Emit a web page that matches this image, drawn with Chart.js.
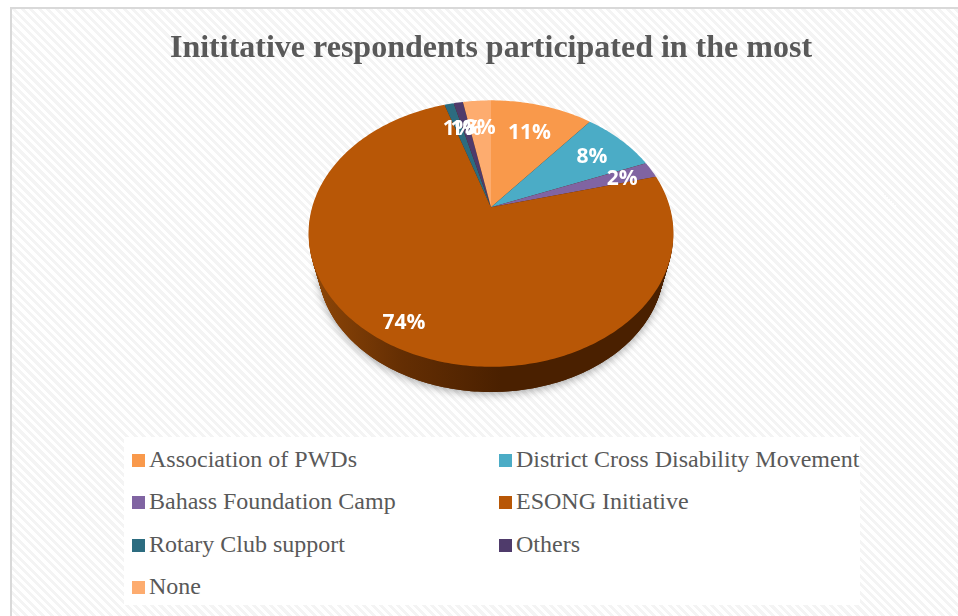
<!DOCTYPE html>
<html>
<head>
<meta charset="utf-8">
<title>Initiative participation</title>
<script src="https://cdn.jsdelivr.net/npm/chart.js@4"></script>
<style>
  html, body { margin: 0; background: #fff; }
  #frame {
    position: absolute; left: 10px; top: 7px; width: 948px; height: 609px;
    box-sizing: border-box; border: solid #d9d9d9; border-width: 2px 0 0 2px;
    background: repeating-linear-gradient(45deg, #fff 0 3px, #f4f4f4 3px 6px);
  }
  #chart { position: absolute; left: 0; top: 0; }
  #legend {
    position: absolute; left: 124px; top: 437px; width: 736px; height: 168px;
    background: #fff; font: 24px "Liberation Serif", serif; color: #595959;
  }
  #legend div { position: absolute; white-space: nowrap; line-height: 26px; }
  #legend i { position: absolute; left: -17px; top: 8px; width: 13px; height: 13px; }
</style>
</head>
<body>
<div id="frame"></div>
<canvas id="chart" width="958" height="616"></canvas>
<div id="legend"></div>
<script>
var initiatives = [
  "Association of PWDs",
  "District Cross Disability Movement",
  "Bahass Foundation Camp",
  "ESONG Initiative",
  "Rotary Club support",
  "Others",
  "None",
];
var shares = [11, 8, 2, 74, 1, 1, 3];
var sliceColors = ["#f9994b", "#4bacc6", "#8064a2", "#b85706", "#2c6c80", "#4f3b6b", "#fdac6f"];

// how far out along its slice each percentage sits (fraction of the radius)
var labelRadii = [0.72, 0.76, 0.81, 0.86, 0.75, 0.73, 0.73];

// Tilted pie: the arcs keep their computed angles, they are only projected
// onto the floor plane before being filled.
var tiltedPie = {
  id: "tiltedPie",

  project: function (arc, angle, r, opts) {
    var u = Math.cos(angle) * r;
    var v = -Math.sin(angle) * r;
    var w = 1 + opts.perspective * v;
    return {
      x: arc.x + (arc.outerRadius * opts.stretch * u) / w,
      y: arc.y - (arc.outerRadius * v) / w,
    };
  },

  // t goes from 0 (top face) to 1 (bottom rim, further away so a bit smaller)
  tracePath: function (ctx, arc, opts, t) {
    var steps = Math.max(4, Math.ceil((arc.endAngle - arc.startAngle) * 60));
    var dy = opts.depth * t;
    var scale = 1 - opts.taper * t;
    ctx.beginPath();
    ctx.moveTo(arc.x, arc.y + dy);
    for (var i = 0; i <= steps; i++) {
      var a = arc.startAngle + ((arc.endAngle - arc.startAngle) * i) / steps;
      var p = this.project(arc, a, scale, opts);
      ctx.lineTo(p.x, p.y + dy);
    }
    ctx.closePath();
  },

  beforeDatasetDraw: function (chart, args, opts) {
    var ctx = chart.ctx;
    var arcs = chart.getDatasetMeta(args.index).data;
    var self = this;
    var center = arcs[0];

    var wall = ctx.createLinearGradient(center.x - 170, 0, center.x + 10, 0);
    wall.addColorStop(0, "#8a4407");
    wall.addColorStop(0.45, "#642e03");
    wall.addColorStop(1, "#4a2000");

    // soft shadow on the ground, cast by the bottom rim
    var whole = { x: center.x, y: center.y, outerRadius: center.outerRadius, startAngle: 0, endAngle: Math.PI * 2 };
    ctx.save();
    ctx.shadowColor = "rgba(0,0,0,0.35)";
    ctx.shadowBlur = 9;
    ctx.shadowOffsetY = 2;
    this.tracePath(ctx, whole, opts, 1);
    ctx.fillStyle = wall;
    ctx.fill();
    ctx.restore();

    // wall between the rim and the top face
    ctx.fillStyle = wall;
    for (var layer = opts.depth; layer > 0; layer--) {
      this.tracePath(ctx, whole, opts, layer / opts.depth);
      ctx.fill();
    }

    arcs.forEach(function (arc, i) {
      self.tracePath(ctx, arc, opts, 0);
      ctx.fillStyle = chart.data.datasets[args.index].backgroundColor[i];
      ctx.fill();
    });

    // percentages on top of the slices
    ctx.save();
    ctx.fillStyle = "#fff";
    ctx.font = "bold 21px 'Open Sans', sans-serif";
    ctx.textAlign = "center";
    ctx.textBaseline = "middle";
    arcs.forEach(function (arc, i) {
      var mid = (arc.startAngle + arc.endAngle) / 2;
      var p = self.project(arc, mid, labelRadii[i], opts);
      ctx.fillText(shares[i] + "%", p.x, p.y + 2);
    });
    ctx.restore();
    return false;
  },
};

var chart = new Chart(document.getElementById("chart"), {
  type: "pie",
  data: {
    labels: initiatives,
    datasets: [
      {
        data: shares,
        backgroundColor: sliceColors,
        borderWidth: 0,
        radius: 128,
      },
    ],
  },
  options: {
    responsive: false,
    animation: false,
    layout: { padding: { left: 24, bottom: 281 } },
    plugins: {
      title: {
        display: true,
        text: "Inititative respondents participated in the most",
        color: "#595959",
        font: { family: "'Liberation Serif', serif", size: 32, weight: "bold", lineHeight: 1.2 },
        padding: { top: 30, bottom: 11 },
      },
      legend: { display: false },
      tooltip: { enabled: false },
      tiltedPie: { perspective: 0.198, stretch: 1.397, depth: 35, taper: 0.05 },
    },
  },
  plugins: [tiltedPie],
});

// two-column legend below the chart
var legendBox = document.getElementById("legend");
initiatives.forEach(function (name, i) {
  var row = document.createElement("div");
  row.style.left = (i % 2 ? 392 : 25) + "px";
  row.style.top = 9 + Math.floor(i / 2) * 42.3 + "px";
  var swatch = document.createElement("i");
  swatch.style.background = chart.data.datasets[0].backgroundColor[i];
  row.appendChild(swatch);
  row.appendChild(document.createTextNode(name));
  legendBox.appendChild(row);
});
</script>
</body>
</html>
